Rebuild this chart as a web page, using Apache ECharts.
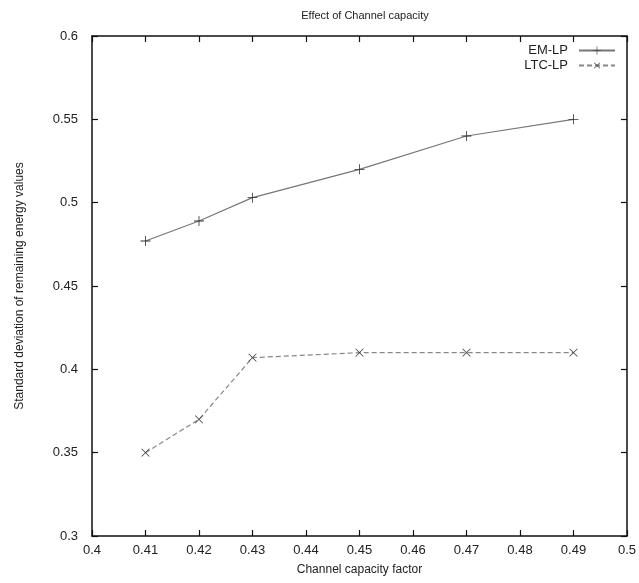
<!DOCTYPE html>
<html><head><meta charset="utf-8">
<script src="https://cdn.jsdelivr.net/npm/echarts@6/dist/echarts.min.js"></script>
<style>html,body{margin:0;padding:0;background:#fff}#c{width:639px;height:583px}</style>
</head><body><div id="c"></div>
<script>
var xValues = [0.41, 0.42, 0.43, 0.45, 0.47, 0.49];
var emlp = [0.477, 0.489, 0.503, 0.520, 0.540, 0.550];
var ltclp = [0.350, 0.370, 0.407, 0.410, 0.410, 0.410];
var seriesNames = ['EM-LP', 'LTC-LP'];

function pairs(xs, ys){ return xs.map(function(x,i){ return [x, ys[i]]; }); }
var plusPath = 'path://M4.6,0h0.8v10h-0.8zM0,4.6h10v0.8h-10z';
var font = 'Liberation Sans, Arial, sans-serif';
var chart = echarts.init(document.getElementById('c'));
var axisLine = {show:true, lineStyle:{color:'#111', width:1.5}};
chart.setOption({
  animation:false,
  title:{text:'Effect of Channel capacity', left:360, top:5, textAlign:'center',
    textStyle:{fontFamily:font, fontSize:11, fontWeight:'normal', color:'#222'}},
  legend:{right:18, top:39, orient:'vertical', align:'right', itemGap:2, itemWidth:36, itemHeight:10,
    textStyle:{fontFamily:font, fontSize:13, color:'#222', padding:[0,6,0,0]}, data:seriesNames},
  grid:{left:92, right:12, top:36, bottom:47},
  xAxis:[{type:'value', min:0.4, max:0.5, interval:0.01,
    name:'Channel capacity factor', nameLocation:'middle', nameGap:28,
    nameTextStyle:{fontFamily:font, fontSize:12, color:'#222'},
    axisLine:axisLine, axisTick:{inside:true, length:6, lineStyle:{color:'#111', width:1.2}},
    axisLabel:{fontFamily:font, fontSize:13, color:'#222', margin:8},
    splitLine:{show:false}},
   {type:'value', position:'top', min:0.4, max:0.5, interval:0.01,
    axisLine:axisLine, axisTick:{inside:true, length:6, lineStyle:{color:'#111', width:1.2}},
    axisLabel:{show:false}, splitLine:{show:false}}],
  yAxis:[{type:'value', min:0.3, max:0.6, interval:0.05,
    name:'Standard deviation of remaining energy values', nameLocation:'middle', nameGap:66,
    nameTextStyle:{fontFamily:font, fontSize:12, color:'#222'},
    axisLine:axisLine, axisTick:{inside:true, length:6, lineStyle:{color:'#111', width:1.2}},
    axisLabel:{fontFamily:font, fontSize:13, color:'#222', margin:14},
    splitLine:{show:false}},
   {type:'value', position:'right', min:0.3, max:0.6, interval:0.05,
    axisLine:axisLine, axisTick:{inside:true, length:6, lineStyle:{color:'#111', width:1.2}},
    axisLabel:{show:false}, splitLine:{show:false}}],
  series:[
    {name:seriesNames[0], type:'line', data:pairs(xValues, emlp),
     symbol:plusPath, symbolSize:10, showAllSymbol:true,
     lineStyle:{color:'#777', width:1.2, type:'solid'},
     itemStyle:{color:'#333'}},
    {name:seriesNames[1], type:'line', data:pairs(xValues, ltclp),
     symbol:plusPath, symbolSize:11, symbolRotate:45, showAllSymbol:true,
     lineStyle:{color:'#888', width:1.2, type:[5,3]},
     itemStyle:{color:'#444'}}
  ]
});
</script></body></html>
